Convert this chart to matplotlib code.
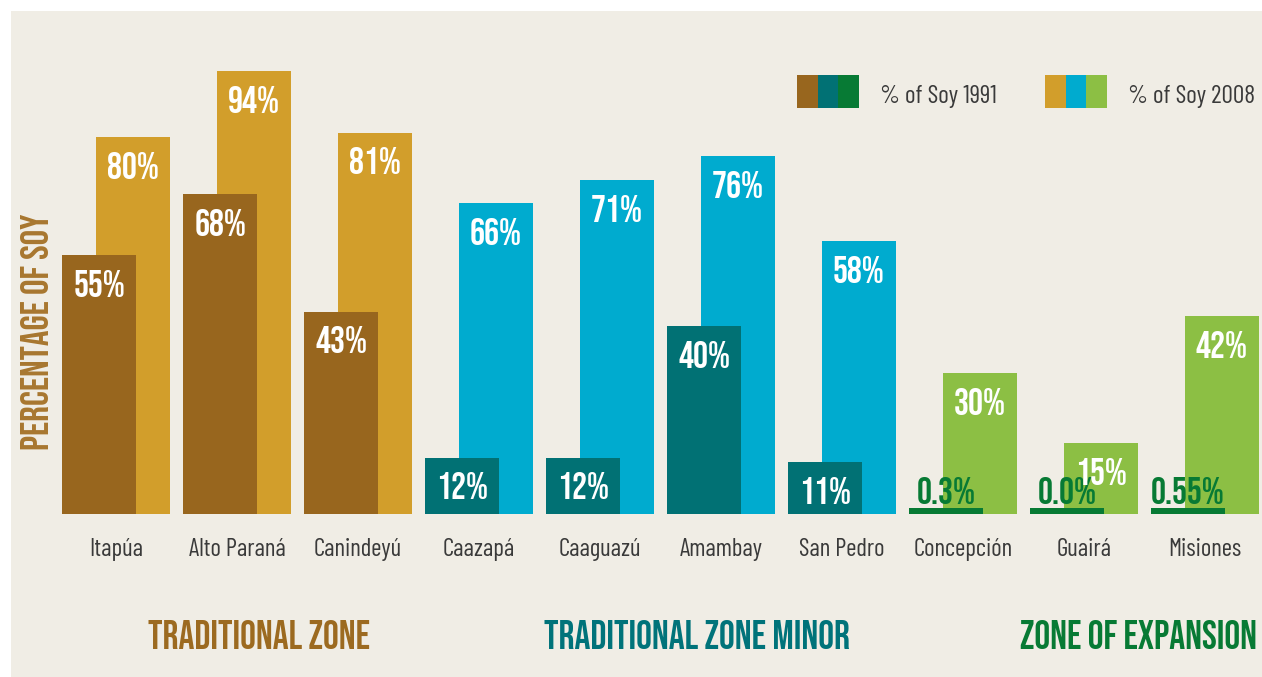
import matplotlib
matplotlib.use("Agg")
import matplotlib.pyplot as plt
from matplotlib.patches import Rectangle
import numpy as np

# data
departments = ["Itapúa", "Alto Paraná", "Canindeyú", "Caazapá", "Caaguazú",
               "Amambay", "San Pedro", "Concepción", "Guairá", "Misiones"]
soy_1991 = [55, 68, 43, 12, 12, 40, 11, 0.3, 0.0, 0.55]
soy_2008 = [80, 94, 81, 66, 71, 76, 58, 30, 15, 42]
labels_1991 = ["55%", "68%", "43%", "12%", "12%", "40%", "11%", "0.3%", "0.0%", "0.55%"]
labels_2008 = ["80%", "94%", "81%", "66%", "71%", "76%", "58%", "30%", "15%", "42%"]
zone_of = [0, 0, 0, 1, 1, 1, 1, 2, 2, 2]
zone_names = ["TRADITIONAL ZONE", "TRADITIONAL ZONE MINOR", "ZONE OF EXPANSION"]

col_1991 = ["#98661e", "#017174", "#077a34"]
col_2008 = ["#d29e2b", "#00abcf", "#8cbf44"]
zone_text_col = ["#9c6a20", "#00737a", "#077a34"]

BG = "#f0ede5"
TXT = "#3a3a3a"
BOLD = ["Bebas Neue", "DejaVu Sans"]
REG = ["Barlow Condensed", "DejaVu Sans"]

W, H = 1262, 677
fig = plt.figure(figsize=(W / 100, H / 100), dpi=100)
fig.patch.set_facecolor("white")

ax = fig.add_axes([11 / W, 0, (W - 11) / W, (H - 11) / H])
ax.set_facecolor(BG)
for s in ax.spines.values():
    s.set_visible(False)
ax.set_xticks([])
ax.set_yticks([])
ax.set_xlim(-0.8685, 9.4706)
ax.set_ylim(-34.6, 106.8)

x = np.arange(len(departments))
off = 0.14
bw = 0.612
stub = 1.25  # tiny values still shown as a thin line

c91 = [col_1991[z] for z in zone_of]
c08 = [col_2008[z] for z in zone_of]

ax.bar(x + off, soy_2008, bw, color=c08, zorder=1)
ax.bar(x - off, np.maximum(soy_1991, stub), bw, color=c91, zorder=2)

for i in range(len(departments)):
    ax.text(x[i] + off, soy_2008[i] - 8.9, labels_2008[i], ha="center", va="baseline",
            color="white", family=BOLD, fontsize=27, zorder=4)
    if soy_1991[i] > 5:
        ax.text(x[i] - off, soy_1991[i] - 8.9, labels_1991[i], ha="center", va="baseline",
                color="white", family=BOLD, fontsize=27, zorder=4)
    else:
        ax.text(x[i] - off, 2.1, labels_1991[i], ha="center", va="baseline",
                color=c91[i], family=BOLD, fontsize=27, zorder=3)
    ax.text(x[i], -8.9, departments[i], ha="center", va="baseline",
            color=TXT, family=REG, fontsize=18)

# zone titles
zone_x = [259, 697, 1139]
for zx, name, c in zip(zone_x, zone_names, zone_text_col):
    fig.text(zx / W, 1 - 649 / H, name, ha="center", va="baseline",
             color=c, family=BOLD, fontsize=28.5)

fig.text(35 / W, 1 - 332 / H, "PERCENTAGE OF SOY", rotation=90, ha="center", va="center",
         color="#a8772f", family=BOLD, fontsize=28)

# legend: three colour squares per year
sq = 20.7
for start, cols, label, tx in [(797, col_1991, "% of Soy 1991", 880),
                               (1045, col_2008, "% of Soy 2008", 1128)]:
    for k, c in enumerate(cols):
        fig.patches.append(Rectangle(((start + k * sq) / W, 1 - 108 / H), sq / W, 33 / H,
                                     transform=fig.transFigure, facecolor=c, edgecolor="none"))
    fig.text(tx / W, 1 - 103 / H, label, ha="left", va="baseline",
             color=TXT, family=REG, fontsize=18.3)

fig.savefig("out.png", dpi=100, facecolor="white")
